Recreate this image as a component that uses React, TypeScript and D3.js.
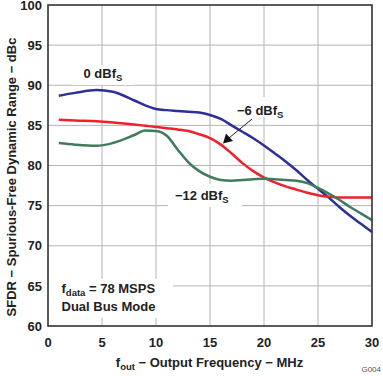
import React from "react";
import * as d3 from "d3";

const freq = [1, 2.5, 4.5, 6, 8, 9, 10, 11, 12, 13, 14, 15, 16, 17, 18, 19, 20, 21, 22, 23, 24, 25, 26, 27, 28, 29, 30];
const sfdr0 = [88.7, 89.05, 89.4, 89.2, 88.1, 87.5, 87.05, 86.9, 86.8, 86.7, 86.6, 86.3, 85.8, 85.0, 84.2, 83.4, 82.5, 81.5, 80.5, 79.4, 78.2, 77.1, 76.0, 74.8, 73.7, 72.7, 71.7];
const sfdr6 = [85.7, 85.6, 85.5, 85.35, 85.1, 84.95, 84.8, 84.65, 84.5, 84.3, 83.9, 83.4, 82.6, 81.5, 80.3, 79.3, 78.5, 77.9, 77.4, 77.0, 76.6, 76.3, 76.1, 76.0, 76.0, 76.0, 76.0];
const sfdr12 = [82.8, 82.6, 82.45, 82.8, 83.8, 84.35, 84.3, 83.7, 82.0, 80.4, 79.3, 78.6, 78.2, 78.1, 78.2, 78.3, 78.35, 78.3, 78.2, 78.1, 77.8, 77.2, 76.5, 75.7, 74.8, 74.0, 73.2];
const xTicks = [0, 5, 10, 15, 20, 25, 30];
const yTicks = [60, 65, 70, 75, 80, 85, 90, 95, 100];

const W = 383;
const H = 376;
const L = 48, R = 372, T = 5, B = 326;
const FONT = "'Liberation Sans', Arial, Helvetica, sans-serif";

export default function App() {
  const x = d3.scaleLinear().domain([0, 30]).range([L, R]);
  const y = d3.scaleLinear().domain([60, 100]).range([B, T]);
  const line = (vals: number[]) =>
    d3
      .line<number>()
      .x((_, i) => x(freq[i]))
      .y((v) => y(v))
      .curve(d3.curveMonotoneX)(vals) || "";

  const series = [
    { vals: sfdr0, color: "#2e2f98" },
    { vals: sfdr6, color: "#f0202c" },
    { vals: sfdr12, color: "#3f7b5c" },
  ];

  return (
    <svg
      width={W}
      height={H}
      style={{ position: "absolute", left: 0, top: 0, background: "#fff" }}
      fontFamily={FONT}
    >
      <rect x={0} y={0} width={W} height={H} fill="#fff" />
      {/* grid */}
      {xTicks.slice(1, -1).map((t) => (
        <line key={"gx" + t} x1={x(t)} x2={x(t)} y1={T} y2={B} stroke="#b4b4b4" strokeWidth={1} />
      ))}
      {yTicks.slice(1, -1).map((t) => (
        <line key={"gy" + t} x1={L} x2={R} y1={y(t)} y2={y(t)} stroke="#b4b4b4" strokeWidth={1} />
      ))}
      {/* label backgrounds */}
      <rect x={72} y={65} width={62} height={20} fill="#fff" />
      <rect x={230} y={97} width={62} height={20} fill="#fff" />
      <rect x={168} y={184} width={74} height={23} fill="#fff" />
      <rect x={49} y={279} width={124} height={39} fill="#fff" />
      {/* curves */}
      {series.map((s, i) => (
        <path key={i} d={line(s.vals)} fill="none" stroke={s.color} strokeWidth={2.5} strokeLinejoin="round" />
      ))}
      {/* frame */}
      <rect x={L} y={T} width={R - L} height={B - T} fill="none" stroke="#333" strokeWidth={1.6} />
      {/* tick labels */}
      {yTicks.map((t) => (
        <text key={"ty" + t} x={42} y={y(t) + 4.7} textAnchor="end" fontSize={13} fontWeight="bold" fill="#222">
          {t}
        </text>
      ))}
      {xTicks.map((t) => (
        <text key={"tx" + t} x={x(t)} y={346.7} textAnchor="middle" fontSize={13} fontWeight="bold" fill="#222">
          {t}
        </text>
      ))}
      {/* axis titles */}
      <text
        transform="translate(16,177) rotate(-90)"
        textAnchor="middle"
        fontSize={13}
        fontWeight="bold"
        fill="#222"
      >
        SFDR − Spurious-Free Dynamic Range − dBc
      </text>
      <text x={209.5} y={366.5} textAnchor="middle" fontSize={13} fontWeight="bold" fill="#222">
        f<tspan fontSize={9.5} dy={3}>out</tspan>
        <tspan dy={-3}> − Output Frequency − MHz</tspan>
      </text>
      <text x={381} y={372} textAnchor="end" fontSize={8} fill="#555">
        G004
      </text>
      {/* series labels */}
      <text x={83.5} y={78.3} fontSize={13} fontWeight="bold" fill="#222">
        0 dBf<tspan fontSize={9.5} dy={3}>S</tspan>
      </text>
      <text x={237} y={115} fontSize={13} fontWeight="bold" fill="#222">
        −6 dBf<tspan fontSize={9.5} dy={3}>S</tspan>
      </text>
      <text x={175} y={200} fontSize={13} fontWeight="bold" fill="#222">
        −12 dBf<tspan fontSize={9.5} dy={3}>S</tspan>
      </text>
      {/* arrow */}
      <line x1={252} y1={119} x2={229} y2={138} stroke="#222" strokeWidth={1} />
      <polygon points="223,143.5 226,133.5 233,141" fill="#111" />
      {/* condition box */}
      <text x={61.5} y={293} fontSize={13} fontWeight="bold" fill="#222">
        f<tspan fontSize={9.5} dy={3}>data</tspan>
        <tspan dy={-3}> = 78 MSPS</tspan>
      </text>
      <text x={61.5} y={311} fontSize={13} fontWeight="bold" fill="#222">
        Dual Bus Mode
      </text>
    </svg>
  );
}
